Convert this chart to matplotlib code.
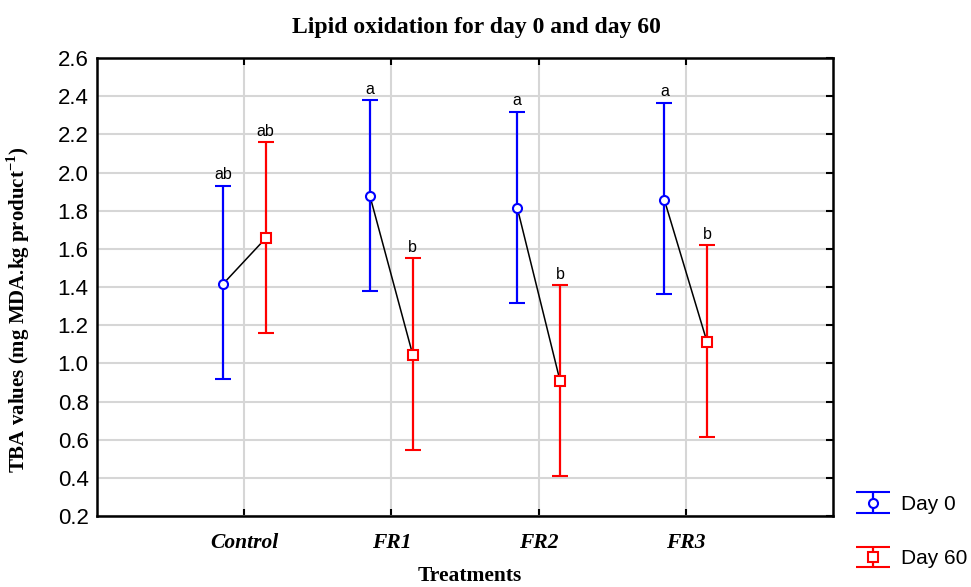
import numpy as np
import matplotlib
matplotlib.use("Agg")
import matplotlib.pyplot as plt

treatments = ["Control", "FR1", "FR2", "FR3"]
day0_mean = [1.415, 1.875, 1.815, 1.855]
day0_low = [0.92, 1.38, 1.315, 1.365]
day0_high = [1.93, 2.38, 2.32, 2.365]
day60_mean = [1.655, 1.045, 0.91, 1.11]
day60_low = [1.16, 0.545, 0.41, 0.615]
day60_high = [2.16, 1.55, 1.41, 1.62]
day0_letters = ["ab", "a", "a", "a"]
day60_letters = ["ab", "b", "b", "b"]

serif = "Liberation Serif"
sans = "Liberation Sans"
plt.rcParams["mathtext.fontset"] = "custom"
plt.rcParams["mathtext.rm"] = "Liberation Serif:bold"
plt.rcParams["mathtext.bf"] = "Liberation Serif:bold"

fig = plt.figure(figsize=(9.71, 5.87), dpi=100)
ax = fig.add_axes([0.0999, 0.121, 0.758, 0.780])

x = np.arange(len(treatments))
off = 0.145
m0 = np.array(day0_mean)
m60 = np.array(day60_mean)
err0 = [m0 - np.array(day0_low), np.array(day0_high) - m0]
err60 = [m60 - np.array(day60_low), np.array(day60_high) - m60]

blue = "#0000ff"
red = "#ff0000"

# connecting lines between the two days
for i in range(len(x)):
    ax.plot([x[i] - off, x[i] + off], [m0[i], m60[i]], color="black", lw=1.1, zorder=3)

kw = dict(mfc="white", ms=6.5, mew=1.5, elinewidth=1.6, capsize=5.5, capthick=1.6, zorder=4)
ax.errorbar(x - off, m0, yerr=err0, fmt="o", color=blue, **kw)
ax.errorbar(x + off, m60, yerr=err60, fmt="s", color=red, **kw)

for i in range(len(x)):
    ax.annotate(day0_letters[i], (x[i] - off, day0_high[i]), xytext=(0, 2.5),
                textcoords="offset points", ha="center", va="bottom",
                fontsize=11.5, family=sans)
    ax.annotate(day60_letters[i], (x[i] + off, day60_high[i]), xytext=(0, 2.5),
                textcoords="offset points", ha="center", va="bottom",
                fontsize=11.5, family=sans)

# legend proxies with wider caps
lkw = dict(mfc="white", ms=6.5, mew=1.5, elinewidth=1.6, capsize=12.5, capthick=1.6)
p0 = ax.errorbar([np.nan], [np.nan], yerr=[[0.1], [0.1]], fmt="o", color=blue, **lkw)
p60 = ax.errorbar([np.nan], [np.nan], yerr=[[0.1], [0.1]], fmt="s", color=red, **lkw)

ax.set_xlim(-1, 4)
ax.set_ylim(0.2, 2.6)
yt = np.arange(0.2, 2.61, 0.2)
ax.set_yticks(yt)
ax.set_yticklabels([f"{v:.1f}" for v in yt], family=sans, fontsize=16)
ax.set_xticks(x)
ax.set_xticklabels(treatments, family=serif, fontsize=15.5, fontweight="bold", style="italic")
ax.tick_params(axis="both", direction="in", length=5, width=1.5, top=True, right=True)
ax.tick_params(axis="y", left=False, pad=6)
ax.tick_params(axis="x", pad=12)
ax.grid(True, color="#d6d6d6", lw=1.5)
ax.set_axisbelow(True)
for s in ax.spines.values():
    s.set_linewidth(1.8)

fig.text(0.491, 0.953, "Lipid oxidation for day 0 and day 60", ha="center", va="center",
         family=serif, fontsize=17, fontweight="bold")
fig.text(0.484, 0.018, "Treatments", ha="center", va="center",
         family=serif, fontsize=15.5, fontweight="bold")
ax.set_ylabel("TBA values (mg MDA.kg product$^{-1}$)", family=serif,
              fontsize=15, fontweight="bold", va="center")
ax.yaxis.set_label_coords(-0.107, 0.45)

fig.legend(handles=[p0, p60], labels=["Day 0", "Day 60"], loc="lower left",
           bbox_to_anchor=(0.856, 0.0), frameon=False, prop={"family": sans, "size": 15},
           labelspacing=1.7, handlelength=2.2, handletextpad=0.25)

fig.savefig("out.png", dpi=100)
